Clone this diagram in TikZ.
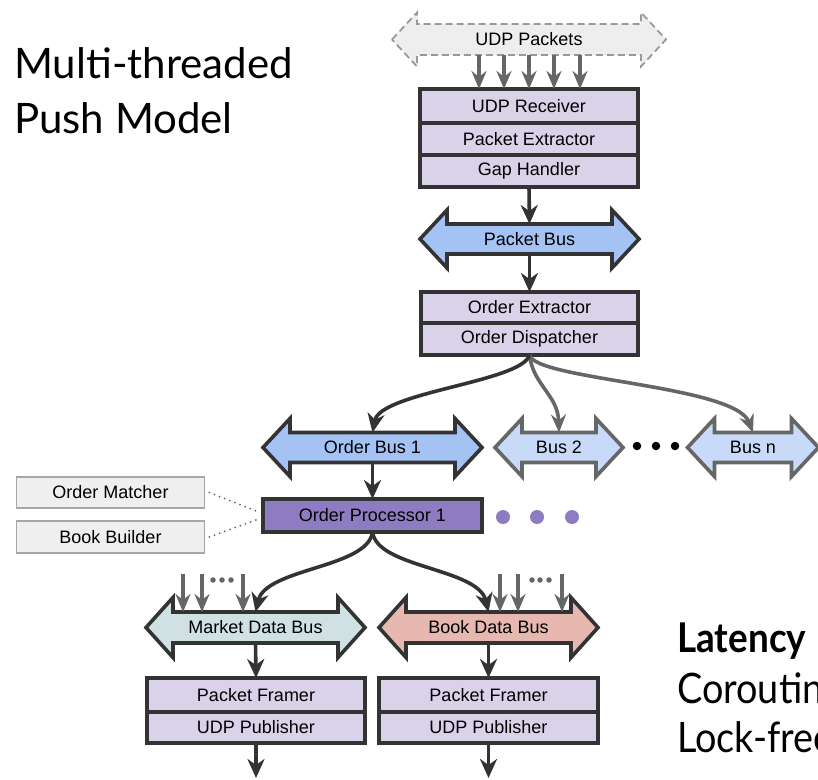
\documentclass[tikz,border=0pt]{standalone}
\usepackage{fontspec}
\setmainfont{Liberation Sans}
\newfontfamily\titlefont{Lato}
\newfontfamily\notefont{Lato}[FakeStretch=0.9]
\usetikzlibrary{arrows.meta,calc,backgrounds}

\definecolor{dk}{HTML}{333333}
\definecolor{gr}{HTML}{666666}
\definecolor{lav}{HTML}{D9D2E9}
\definecolor{busblue}{HTML}{A4C2F4}
\definecolor{buslight}{HTML}{C9DAF8}
\definecolor{procpurple}{HTML}{8E7CC3}
\definecolor{mktteal}{HTML}{D0E0E3}
\definecolor{bookred}{HTML}{E6B8AF}
\definecolor{sidegray}{HTML}{EFEFEF}
\definecolor{sideline}{HTML}{A6A6A6}
\definecolor{pktgray}{HTML}{EEEEEE}
\definecolor{pktline}{HTML}{999999}

% outline of a two-headed bus arrow around a body node
\newcommand\drawbus[4]{%
  \path[#4] ($(#1.west)+(-#2,0)$) -- ($(#1.west)+(0,-#3)$) -- (#1.north west)
    -- (#1.north east) -- ($(#1.east)+(0,-#3)$) -- ($(#1.east)+(#2,0)$)
    -- ($(#1.east)+(0,#3)$) -- (#1.south east) -- (#1.south west)
    -- ($(#1.west)+(0,#3)$) -- cycle;}

\begin{document}
\begin{tikzpicture}[x=1pt,y=-1pt,
  lbl/.style={font=\fontsize{18}{21}\selectfont},
  stage/.style={lbl, draw=dk, fill=lav, line width=3.6pt, minimum width=218pt,
    minimum height=32pt, inner sep=0pt, outer sep=0pt},
  busbody/.style={lbl, minimum height=30pt, inner sep=0pt, outer sep=0pt},
  busline/.style={draw=dk, line width=3.6pt, line join=miter},
  buslite/.style={draw=gr, fill=buslight, line width=3.6pt, line join=miter},
  sidebox/.style={lbl, draw=sideline, fill=sidegray, line width=1.6pt,
    minimum width=188pt, minimum height=30pt, inner sep=0pt},
  flow/.style={draw=dk, line width=3.6pt, -{Stealth[length=19pt,width=17pt,inset=6pt]}},
  feed/.style={draw=gr, line width=3.6pt, -{Stealth[length=18pt,width=15pt,inset=6pt]}},
  link/.style={draw=gr, line width=2pt, line cap=round, dash pattern=on 0pt off 5.5pt},
  dot/.style={circle, fill=#1, inner sep=0pt, outer sep=0pt},
  bigtext/.style={anchor=base west, inner sep=0pt, font=\titlefont\fontsize{42}{50}\selectfont}
]
\useasboundingbox (0,0) rectangle (818,779);
\clip (0,0) rectangle (818,779);

% ---- title and side notes
\node[bigtext] (t1) at (14,78) {Multi-threaded};
\node[bigtext] (t2) at (14,133) {Push Model};
\node[bigtext, font=\notefont\bfseries\fontsize{41}{48}\selectfont] (lat) at (677,652) {Latency};
\node[bigtext, font=\notefont\fontsize{42}{50}\selectfont] (co) at (677,703) {Coroutine};
\node[bigtext, font=\notefont\fontsize{42}{50}\selectfont] (lf) at (677,752) {Lock-free};

% ---- incoming packets
\node[busbody, minimum width=224pt, minimum height=31pt] (udp) at (529,39.5) {UDP Packets};
\begin{pgfonlayer}{background}
  \drawbus{udp}{25}{27}{draw=pktline, fill=pktgray, line width=1.8pt, dash pattern=on 7pt off 4pt}
\end{pgfonlayer}

% ---- receiver stack
\node[stage, minimum height=34pt] (rx) at (529,106) {UDP Receiver};
\node[stage] (px) at (529,139) {Packet Extractor};
\node[stage] (gh) at (529,171) {Gap Handler};

\foreach \i/\x in {1/479,2/504,3/529,4/554,5/580}{
  \coordinate (u\i) at (\x,55);
  \draw[feed] (u\i) -- (u\i |- rx.north);
}

% ---- packet bus
\node[busbody, minimum width=165pt] (pb) at (529.5,239) {Packet Bus};
\begin{pgfonlayer}{background}
  \drawbus{pb}{27}{29}{busline, fill=busblue}
\end{pgfonlayer}
\draw[flow] (gh.south) -- (pb.north);

% ---- order stack
\node[stage, minimum width=217pt, minimum height=31pt] (oe) at (529.5,307.5) {Order Extractor};
\node[stage, minimum width=217pt] (od) at (529.5,339) {Order Dispatcher};
\draw[flow] (pb.south) -- (oe.north);

% ---- order buses
\node[busbody, minimum width=165pt] (ob1) at (372.5,447.5) {Order Bus 1};
\node[busbody, minimum width=74pt] (b2) at (559,447.5) {Bus 2};
\node[busbody, minimum width=77pt] (bn) at (753,447.5) {Bus n};
\begin{pgfonlayer}{background}
  \drawbus{ob1}{27}{29}{busline, fill=busblue}
  \drawbus{b2}{27}{29}{buslite}
  \drawbus{bn}{27}{29}{buslite}
\end{pgfonlayer}
\node[dot=black, minimum size=8.5pt] (k1) at (637,446) {};
\node[dot=black, minimum size=8.5pt] (k2) at (656,446) {};
\node[dot=black, minimum size=8.5pt] (k3) at (675,446) {};

\draw[feed] (od.south) .. controls (533,385) and (558,395) .. (b2.north);
\draw[feed] (od.south) .. controls (535,380) and (735,385) .. (bn.north);
\draw[flow] (od.south) .. controls (522,382) and (380,392) .. (ob1.north);

% ---- order processor and its parts
\node[lbl, draw=dk, fill=procpurple, line width=3.6pt, minimum width=219pt,
  minimum height=33pt, inner sep=0pt, outer sep=0pt] (op) at (372.5,515.5) {Order Processor 1};
\draw[flow] (ob1.south) -- (op.north);
\node[dot=procpurple, minimum size=14pt] (p1) at (503,517) {};
\node[dot=procpurple, minimum size=14pt] (p2) at (537,517) {};
\node[dot=procpurple, minimum size=14pt] (p3) at (572,517) {};

\node[sidebox, minimum height=31pt] (om) at (110.5,492.5) {Order Matcher};
\node[sidebox, minimum height=32pt] (bb) at (110.5,537) {Book Builder};
\draw[link] ($(om.east)+(4,0)$) -- ($(op.west)+(-3,-3)$);
\draw[link] ($(bb.east)+(4,0)$) -- ($(op.west)+(-3,3)$);

% ---- output buses
\node[busbody, minimum width=165pt, minimum height=31pt] (mdb) at (255.5,627.5) {Market Data Bus};
\node[busbody, minimum width=165pt, minimum height=31pt] (bdb) at (488.5,627.5) {Book Data Bus};
\begin{pgfonlayer}{background}
  \drawbus{mdb}{27}{30}{busline, fill=mktteal}
  \drawbus{bdb}{27}{30}{busline, fill=bookred}
\end{pgfonlayer}
\draw[flow] (op.south) .. controls (368,568) and (266,568) .. (mdb.north);
\draw[flow] (op.south) .. controls (377,568) and (478,568) .. (bdb.north);

\foreach \n/\x in {m1/183,m2/202,m3/243,b1/500,b2/518,b3/562}{
  \coordinate (\n) at (\x,574);
}
\draw[feed] (m1) -- (m1 |- mdb.north);
\draw[feed] (m2) -- (m2 |- mdb.north);
\draw[feed] (m3) -- (m3 |- mdb.north);
\draw[feed] (b1) -- (b1 |- bdb.north);
\draw[feed] (b2) -- (b2 |- bdb.north);
\draw[feed] (b3) -- (b3 |- bdb.north);
\foreach \n/\x in {md1/213,md2/222,md3/231,bd1/532,bd2/540,bd3/549}{
  \node[dot=gr, minimum size=5.5pt] (\n) at (\x,580) {};
}

% ---- publishers
\node[stage, minimum height=34pt] (mpf) at (256,695) {Packet Framer};
\node[stage, minimum height=31pt] (mpu) at (256,727.5) {UDP Publisher};
\node[stage, minimum width=219pt, minimum height=34pt] (bpf) at (488.5,695) {Packet Framer};
\node[stage, minimum width=219pt, minimum height=31pt] (bpu) at (488.5,727.5) {UDP Publisher};
\draw[flow] (mdb.south) -- (mpf.north);
\draw[flow] (bdb.south) -- (bpf.north);
\coordinate (mout) at (256,778);
\coordinate (bout) at (488.5,778);
\draw[flow] (mpu.south) -- (mout);
\draw[flow] (bpu.south) -- (bout);
\end{tikzpicture}
\end{document}
